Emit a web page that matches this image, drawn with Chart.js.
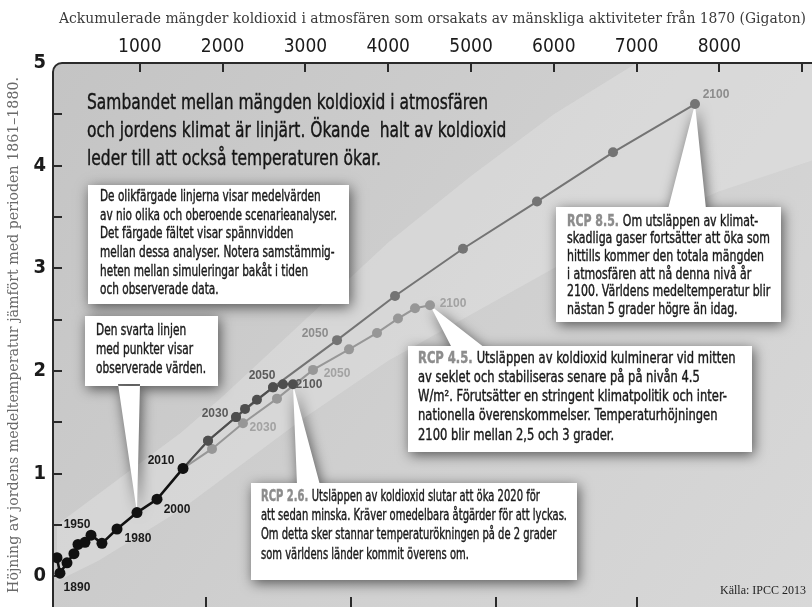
<!DOCTYPE html>
<html>
<head>
<meta charset="utf-8">
<script src="https://cdn.jsdelivr.net/npm/chart.js@4.4.1/dist/chart.umd.min.js"></script>
<style>
  html, body { margin: 0; padding: 0; background: #fff; }
  #wrap { width: 812px; height: 607px; }
</style>
</head>
<body>
<div id="wrap"><canvas id="chart"></canvas></div>
<script>
// x = ackumulerad CO2 (Gt), y = temperaturhöjning (°C)
const topTickLabels = [1000, 2000, 3000, 4000, 5000, 6000, 7000, 8000];
const topTickMarks = [1000, 2000, 3000, 4000, 5000, 6000, 7000, 8000, 9000];
const bottomTickMarks = [1800, 3550, 5300, 7000];
const yTickLabels = [0, 1, 2, 3, 4, 5];
const yTickMarks = [0, 0.5, 1, 1.5, 2, 2.5, 3, 3.5, 4, 4.5];

const obsGt = [0, 36, 121, 205, 254, 338, 411, 543, 725, 966, 1208, 1522];
const obsTemp = [0.18, 0.03, 0.13, 0.22, 0.31, 0.33, 0.40, 0.32, 0.46, 0.62, 0.75, 1.05];
const obsYears = ["", "1890", "", "", "", "", "1950", "", "", "1980", "2000", "2010"];

const rcp26Gt = [1522, 1824, 2162, 2271, 2415, 2609, 2729, 2850];
const rcp26Temp = [1.05, 1.32, 1.55, 1.63, 1.72, 1.84, 1.87, 1.87];
const rcp26Years = ["", "", "2030", "", "", "2050", "", "2100"];

const rcp45Gt = [1522, 1872, 2246, 2657, 3092, 3527, 3865, 4118, 4324, 4505];
const rcp45Temp = [1.05, 1.24, 1.49, 1.73, 2.01, 2.21, 2.37, 2.51, 2.61, 2.64];
const rcp45Years = ["", "", "2030", "", "2050", "", "", "", "", "2100"];

const rcp85Gt = [1522, 1824, 2162, 2609, 3382, 4082, 4903, 5797, 6715, 7705];
const rcp85Temp = [1.05, 1.32, 1.55, 1.84, 2.30, 2.73, 3.19, 3.65, 4.13, 4.60];
const rcp85Years = ["", "", "", "", "2050", "", "", "", "", "2100"];

// spannvidd mellan modellerna
const bandGt = [0, 500, 1000, 1500, 2000, 3000, 4000, 5000, 6000, 7000, 8000, 9118];
const bandHigh = [0.50, 0.80, 1.10, 1.40, 1.75, 2.50, 3.25, 3.90, 4.50, 5.00, 5.30, 5.60];
const bandLow = [-0.05, 0.15, 0.40, 0.65, 0.95, 1.55, 2.10, 2.55, 3.00, 3.40, 3.75, 4.05];

const narrow = "'Liberation Sans Narrow', 'DejaVu Sans Condensed', 'Arial Narrow', sans-serif";
const serif = "'DejaVu Serif', 'Liberation Serif', serif";

const pts = (xs, ys) => xs.map((x, i) => ({ x: x, y: ys[i] }));

const yearsBySeries = {
  obs: obsYears,
  rcp26: rcp26Years,
  rcp45: rcp45Years,
  rcp85: rcp85Years,
};

// förskjutning av årtalsetiketter (px) relativt punkten
const labelOffsets = {
  obs: { 1: [17, 15], 6: [-14, -10], 9: [1, 26], 10: [20, 10], 11: [-22, -8] },
  rcp26: { 2: [-21, -3], 5: [-11, -12], 7: [16, 0] },
  rcp45: { 2: [20, 4], 4: [24, 4], 9: [23, -2] },
  rcp85: { 4: [-22, -6], 9: [21, -9] },
};
const labelColors = { obs: "#1a1a1a", rcp26: "#5a5a5a", rcp45: "#a2a2a2", rcp85: "#8c8c8c" };

const boxes = [
  {
    rect: [88, 185, 261, 119], textX: 100, textY: 197, step: 18.7,
    font: "15px " + narrow, refLine: 1, refWidth: 237, color: "#1a1a1a",
    lines: [
      "De olikfärgade linjerna visar medelvärden",
      "av nio olika och oberoende scenarieanalyser.",
      "Det färgade fältet visar spännvidden",
      "mellan dessa analyser. Notera samstämmig-",
      "heten mellan simuleringar bakåt i tiden",
      "och observerade data.",
    ],
  },
  {
    rect: [85, 316, 133, 70], textX: 96, textY: 331, step: 19,
    font: "15px " + narrow, refLine: 2, refWidth: 110, color: "#1a1a1a",
    pointer: { base: [118, 140], series: "obs", index: 9 },
    lines: ["Den svarta linjen", "med punkter visar", "observerade värden."],
  },
  {
    rect: [556, 207, 225, 115], textX: 567, textY: 222, step: 17.6,
    font: "15px " + narrow, refLine: 1, refWidth: 203, color: "#1a1a1a",
    prefix: "RCP 8.5.",
    pointer: { base: [668, 706], series: "rcp85", index: 9 },
    lines: [
      "Om utsläppen av klimat-",
      "skadliga gaser fortsätter att öka som",
      "hittills kommer den totala mängden",
      "i atmosfären att nå denna nivå år",
      "2100. Världens medeltemperatur blir",
      "nästan 5 grader högre än idag.",
    ],
  },
  {
    rect: [408, 346, 344, 106], textX: 418, textY: 359, step: 19.2,
    font: "15px " + narrow, refLine: 2, refWidth: 309, color: "#1a1a1a",
    prefix: "RCP 4.5.",
    pointer: { base: [452, 485], series: "rcp45", index: 9 },
    lines: [
      "Utsläppen av koldioxid kulminerar vid mitten",
      "av seklet och stabiliseras senare på på nivån 4.5",
      "W/m². Förutsätter en stringent klimatpolitik och inter-",
      "nationella överenskommelser. Temperaturhöjningen",
      "2100 blir mellan 2,5 och 3 grader.",
    ],
  },
  {
    rect: [251, 483, 326, 97], textX: 261, textY: 497, step: 19.3,
    font: "15px " + narrow, refLine: 1, refWidth: 306, color: "#1a1a1a",
    prefix: "RCP 2.6.",
    pointer: { base: [297, 320], series: "rcp26", index: 7 },
    lines: [
      "Utsläppen av koldioxid slutar att öka 2020 för",
      "att sedan minska. Kräver omedelbara åtgärder för att lyckas.",
      "Om detta sker stannar temperaturökningen på de 2 grader",
      "som världens länder kommit överens om.",
    ],
  },
];

const headline = {
  textX: 87, textY: 103, step: 28, font: "22px " + narrow, refLine: 0, refWidth: 401, color: "#161616",
  lines: [
    "Sambandet mellan mängden koldioxid i atmosfären",
    "och jordens klimat är linjärt. Ökande  halt av koldioxid",
    "leder till att också temperaturen ökar.",
  ],
};

const seriesData = {
  obs: [obsGt, obsTemp],
  rcp26: [rcp26Gt, rcp26Temp],
  rcp45: [rcp45Gt, rcp45Temp],
  rcp85: [rcp85Gt, rcp85Temp],
};

// text i smal stil, lite kraftigare med tunn kontur
function fitText(ctx, text, x, y, f) {
  ctx.save();
  ctx.translate(x, y);
  ctx.scale(f, 1);
  ctx.fillText(text, 0, 0);
  ctx.strokeStyle = ctx.fillStyle;
  ctx.lineWidth = 0.4;
  ctx.strokeText(text, 0, 0);
  ctx.restore();
}

function writeBlock(ctx, b) {
  ctx.font = b.font;
  const f = b.refWidth / ctx.measureText(b.lines[b.refLine]).width;
  ctx.textBaseline = "middle";
  ctx.textAlign = "left";
  b.lines.forEach((line, i) => {
    const yy = b.textY + i * b.step;
    let xx = b.textX;
    if (i === 0 && b.prefix) {
      ctx.font = "bold " + b.font;
      ctx.fillStyle = "#8d8d8d";
      fitText(ctx, b.prefix, xx, yy, f);
      xx += ctx.measureText(b.prefix + " ").width * f;
      ctx.font = b.font;
    }
    ctx.fillStyle = b.color;
    fitText(ctx, line, xx, yy, f);
  });
}

const background = {
  id: "plotBackground",
  beforeDraw(chart) {
    const { ctx, chartArea: a } = chart;
    ctx.save();
    ctx.fillStyle = "#fff";
    ctx.fillRect(0, 0, chart.width, chart.height);
    const g = ctx.createLinearGradient(a.left, a.top, a.right, a.bottom);
    g.addColorStop(0, "#c4c4c4");
    g.addColorStop(0.5, "#cfcfcf");
    g.addColorStop(1, "#d8d8d8");
    ctx.fillStyle = g;
    ctx.beginPath();
    ctx.roundRect(a.left, a.top, a.right - a.left + 10, a.bottom - a.top + 10, [9, 0, 0, 0]);
    ctx.fill();
    ctx.restore();
  },
};

const annotations = {
  id: "annotations",
  beforeDatasetsDraw(chart) {
    const { ctx, chartArea: a } = chart;
    const sx = chart.scales.x;
    const sy = chart.scales.y;
    ctx.save();

    writeBlock(ctx, headline);

    boxes.forEach((b) => {
      const [bx, by, bw, bh] = b.rect;
      ctx.save();
      ctx.shadowColor = "rgba(0,0,0,0.6)";
      ctx.shadowBlur = 13;
      ctx.shadowOffsetX = 2;
      ctx.shadowOffsetY = 3;
      ctx.fillStyle = "#fff";
      ctx.beginPath();
      ctx.rect(bx, by, bw, bh);
      if (b.pointer) {
        const [xs, ys] = seriesData[b.pointer.series];
        const tx = sx.getPixelForValue(xs[b.pointer.index]);
        const ty = sy.getPixelForValue(ys[b.pointer.index]);
        const edge = ty < by ? by + 2 : by + bh - 2;
        ctx.moveTo(b.pointer.base[0], edge);
        ctx.lineTo(tx, ty);
        ctx.lineTo(b.pointer.base[1], edge);
        ctx.closePath();
      }
      ctx.fill();
      ctx.restore();
      writeBlock(ctx, b);
    });

    // ram och inre skalstreck
    ctx.strokeStyle = "#2a2a2a";
    ctx.lineWidth = 2;
    ctx.beginPath();
    ctx.moveTo(a.left, a.bottom);
    ctx.arcTo(a.left, a.top, a.left + 20, a.top, 9);
    ctx.lineTo(a.right, a.top);
    ctx.stroke();
    ctx.beginPath();
    topTickMarks.forEach((v) => {
      const px = Math.round(sx.getPixelForValue(v));
      ctx.moveTo(px, a.top);
      ctx.lineTo(px, a.top + 9);
    });
    bottomTickMarks.forEach((v) => {
      const px = Math.round(sx.getPixelForValue(v));
      ctx.moveTo(px, a.bottom);
      ctx.lineTo(px, a.bottom - 10);
    });
    yTickMarks.forEach((v) => {
      const py = Math.round(sy.getPixelForValue(v));
      ctx.moveTo(a.left, py);
      ctx.lineTo(a.left + 9, py);
    });
    ctx.stroke();
    ctx.restore();
  },
  afterDatasetsDraw(chart) {
    const { ctx } = chart;
    const sx = chart.scales.x;
    const sy = chart.scales.y;
    ctx.save();
    ctx.font = "bold 12px 'Liberation Sans', sans-serif";
    ctx.textAlign = "center";
    ctx.textBaseline = "middle";
    Object.keys(yearsBySeries).forEach((key) => {
      const [xs, ys] = seriesData[key];
      yearsBySeries[key].forEach((year, i) => {
        if (!year) return;
        const off = labelOffsets[key][i] || [0, -12];
        ctx.fillStyle = labelColors[key];
        ctx.fillText(year, sx.getPixelForValue(xs[i]) + off[0], sy.getPixelForValue(ys[i]) + off[1]);
      });
    });
    ctx.font = "12px 'Liberation Serif', serif";
    ctx.textAlign = "right";
    ctx.fillStyle = "#222";
    ctx.fillText("Källa: IPCC 2013", 806, 591);
    ctx.restore();
  },
};

const line = (key, label, color, width, radius, order) => ({
  label: label,
  data: pts(seriesData[key][0], seriesData[key][1]),
  showLine: true,
  borderColor: color,
  backgroundColor: color,
  borderWidth: width,
  pointRadius: radius,
  pointBorderWidth: 0,
  order: order,
});

new Chart(document.getElementById("chart"), {
  type: "scatter",
  data: {
    datasets: [
      line("obs", "Observerat", "#111111", 2.6, 5.5, 0),
      line("rcp26", "RCP 2.6", "#4e4e4e", 2, 5, 1),
      line("rcp85", "RCP 8.5", "#747474", 2, 5, 2),
      line("rcp45", "RCP 4.5", "#979797", 2, 5, 3),
      {
        label: "Max",
        data: pts(bandGt, bandHigh),
        showLine: true,
        borderWidth: 0,
        pointRadius: 0,
        fill: "+1",
        backgroundColor: "rgba(230,230,230,0.4)",
        order: 10,
      },
      {
        label: "Min",
        data: pts(bandGt, bandLow),
        showLine: true,
        borderWidth: 0,
        pointRadius: 0,
        fill: false,
        order: 11,
      },
    ],
  },
  options: {
    responsive: true,
    maintainAspectRatio: false,
    animation: false,
    layout: { padding: 0, autoPadding: false },
    plugins: {
      legend: { display: false },
      tooltip: { enabled: false },
      filler: { drawTime: "beforeDatasetsDraw" },
    },
    scales: {
      x: {
        type: "linear",
        position: "top",
        min: -48,
        max: 9118,
        afterBuildTicks: (s) => { s.ticks = topTickLabels.map((v) => ({ value: v })); },
        afterFit: (s) => {
          s.height = 63;
          s.paddingLeft = 0;
          s.paddingRight = 0;
        },
        grid: { display: false, drawTicks: false },
        border: { display: false },
        ticks: {
          color: "#1b1b1b",
          padding: 5,
          maxRotation: 0,
          autoSkip: false,
          font: { family: narrow, size: 19 },
          callback: (v) => String(v),
        },
        title: {
          display: true,
          text: "Ackumulerade mängder koldioxid i atmosfären som orsakats av mänskliga aktiviteter från 1870 (Gigaton)",
          color: "#3a3a3a",
          font: { family: serif, size: 13.9 },
          padding: { top: 11, bottom: 0 },
        },
      },
      y: {
        type: "linear",
        min: -0.3,
        max: 5,
        afterBuildTicks: (s) => { s.ticks = yTickLabels.map((v) => ({ value: v })); },
        afterFit: (s) => {
          s.width = 53;
          s.paddingTop = 0;
          s.paddingBottom = 0;
        },
        grid: { display: false, drawTicks: false },
        border: { display: false },
        ticks: {
          color: "#1b1b1b",
          padding: 7,
          font: { family: narrow, size: 20, weight: "bold" },
        },
        title: {
          display: true,
          text: "Höjning av jordens medeltemperatur jämfört med perioden 1861–1880.",
          color: "#6a6a6a",
          font: { family: serif, size: 14.2 },
          padding: { top: 6, bottom: 0 },
        },
      },
    },
  },
  plugins: [background, annotations],
});
</script>
</body>
</html>
